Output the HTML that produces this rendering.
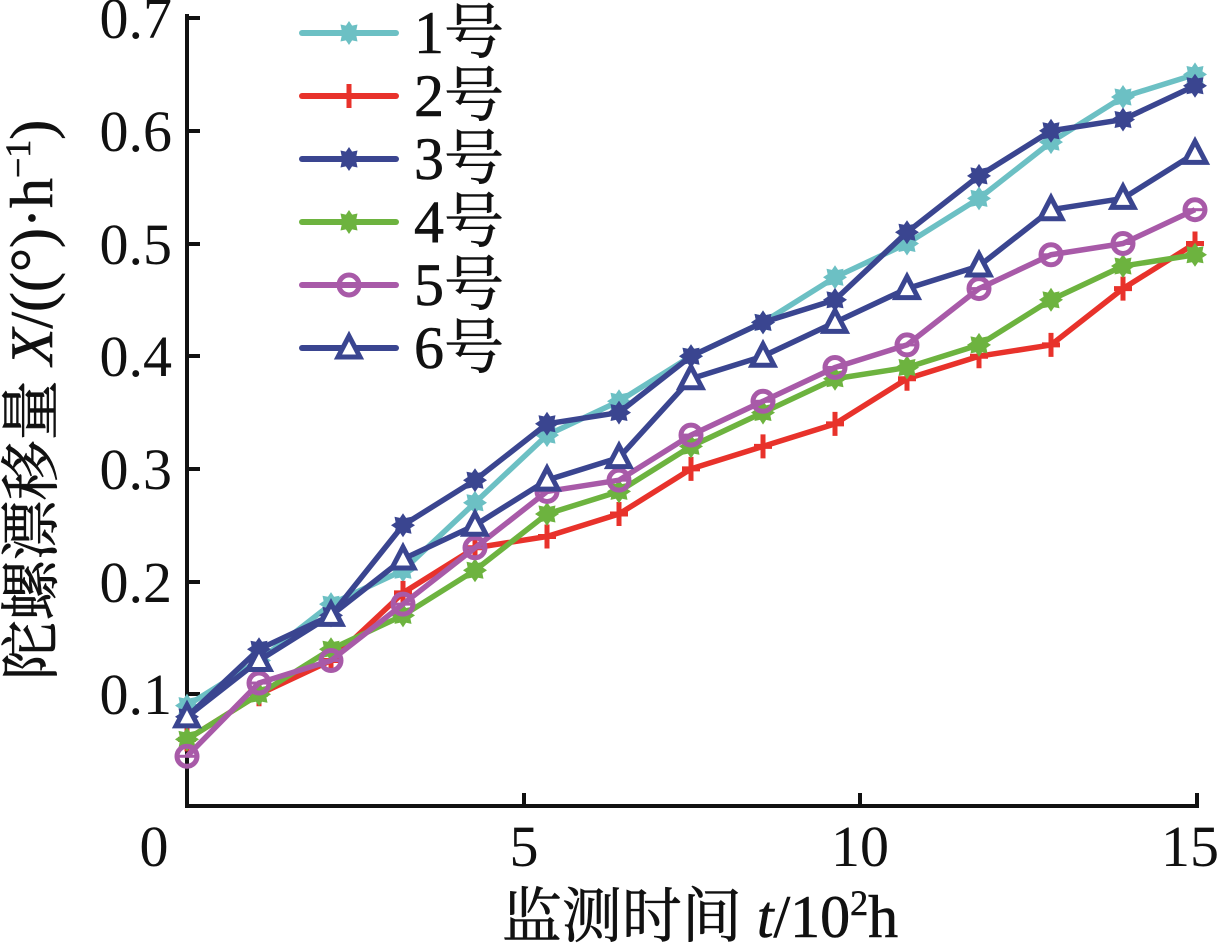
<!DOCTYPE html><html><head><meta charset="utf-8"><style>body{margin:0;background:#fff}svg{display:block}</style></head><body>
<svg id="s" width="1220" height="951" xmlns="http://www.w3.org/2000/svg" font-family="Liberation Serif, Noto Serif CJK SC, serif">
<g stroke="#111" stroke-width="4" fill="none">
<polyline points="187,14 187,806 1199,806"/>
<line x1="187" y1="18" x2="200" y2="18"/><line x1="187" y1="131" x2="200" y2="131"/><line x1="187" y1="244" x2="200" y2="244"/><line x1="187" y1="356" x2="200" y2="356"/><line x1="187" y1="469" x2="200" y2="469"/><line x1="187" y1="582" x2="200" y2="582"/><line x1="187" y1="694" x2="200" y2="694"/>
<line x1="524" y1="806" x2="524" y2="793"/><line x1="860" y1="806" x2="860" y2="793"/><line x1="1197" y1="806" x2="1197" y2="793"/>
</g>
<g font-size="58" fill="#111" text-anchor="end">
<text x="172" y="38">0.7</text><text x="172" y="151">0.6</text><text x="172" y="264">0.5</text><text x="172" y="376">0.4</text><text x="172" y="489">0.3</text><text x="172" y="602">0.2</text><text x="172" y="714">0.1</text>
</g>
<g font-size="58" fill="#111" text-anchor="middle" stroke="#111" stroke-width="0.6">
<text x="154" y="866" stroke="none">0</text><text x="524" y="866" stroke="none">5</text><text x="860" y="866" stroke="none">10</text><text x="1190" y="866" stroke="none">15</text>
<text x="700" y="937" font-size="60">监测时间 <tspan font-style="italic">t</tspan>/10<tspan font-size="36" dy="-22">2</tspan><tspan dy="22">h</tspan></text>
<text transform="translate(52,400) rotate(-90)" font-size="60">陀螺漂移量 <tspan font-style="italic">X</tspan>/((°)·h<tspan font-size="36" dy="-22">−1</tspan><tspan dy="22">)</tspan></text>
</g>
<g id="d"></g>
</svg>
<script>
var S=[
["#6cc0c4","star1",[0.09,0.13,0.18,0.21,0.27,0.33,0.36,0.40,0.43,0.47,0.50,0.54,0.59,0.63,0.65]],
["#e8322b","plus",[0.06,0.10,0.13,0.19,0.23,0.24,0.26,0.30,0.32,0.34,0.38,0.40,0.41,0.46,0.50]],
["#3a4590","star2",[0.08,0.14,0.17,0.25,0.29,0.34,0.35,0.40,0.43,0.45,0.51,0.56,0.60,0.61,0.64]],
["#6db33f","star2",[0.06,0.10,0.14,0.17,0.21,0.26,0.28,0.32,0.35,0.38,0.39,0.41,0.45,0.48,0.49]],
["#a85aa8","circ",[0.045,0.11,0.13,0.18,0.23,0.28,0.29,0.33,0.36,0.39,0.41,0.46,0.49,0.50,0.53]],
["#3a4590","tri",[0.08,0.13,0.17,0.22,0.25,0.29,0.31,0.38,0.40,0.43,0.46,0.48,0.53,0.54,0.58]]];
var h="";
function mk(t,c,x,y){
 if(t=="plus")return '<path d="M'+(x-9)+','+y+'H'+(x+9)+'M'+x+','+(y-12)+'V'+(y+12)+'" stroke="'+c+'" stroke-width="5"/>';
 if(t=="circ")return '<circle cx="'+x+'" cy="'+y+'" r="10" fill="none" stroke="'+c+'" stroke-width="5"/><line x1="'+(x-8)+'" y1="'+y+'" x2="'+(x+8)+'" y2="'+y+'" stroke="'+c+'" stroke-width="3"/>';
 if(t=="tri")return '<path d="M'+x+','+(y-12)+'L'+(x+11)+','+(y+9)+'H'+(x-11)+'Z" fill="#fff" stroke="'+c+'" stroke-width="5"/>';
 var p="";for(var k=0;k<16;k++){var a=k*Math.PI/8,r=k%2?8:12;p+=(k?'L':'M')+(x+r*Math.sin(a)).toFixed(1)+','+(y-r*Math.cos(a)).toFixed(1);}
 return '<path d="'+p+'Z" fill="'+c+'"/>';
}
S.forEach(function(s,j){
 var pts=s[2].map(function(v,i){return [187+72*i,807-v*1127]});
 h+='<polyline fill="none" stroke="'+s[0]+'" stroke-width="5.5" stroke-linejoin="round" points="'+pts.map(function(p){return p.join(',')}).join(' ')+'"/>';
 pts.forEach(function(p){h+=mk(s[1],s[0],p[0],p[1])});
 var ly=33+j*63;
 h+='<line x1="302" y1="'+ly+'" x2="396" y2="'+ly+'" stroke="'+s[0]+'" stroke-width="6" stroke-linecap="round"/>'+mk(s[1],s[0],349,ly);
 h+='<text x="414" y="'+(ly+20)+'" font-size="60" fill="#111" stroke="#111" stroke-width="0.6">'+(j+1)+'号</text>';
});
document.getElementById("d").innerHTML=h;
</script>
</body></html>
